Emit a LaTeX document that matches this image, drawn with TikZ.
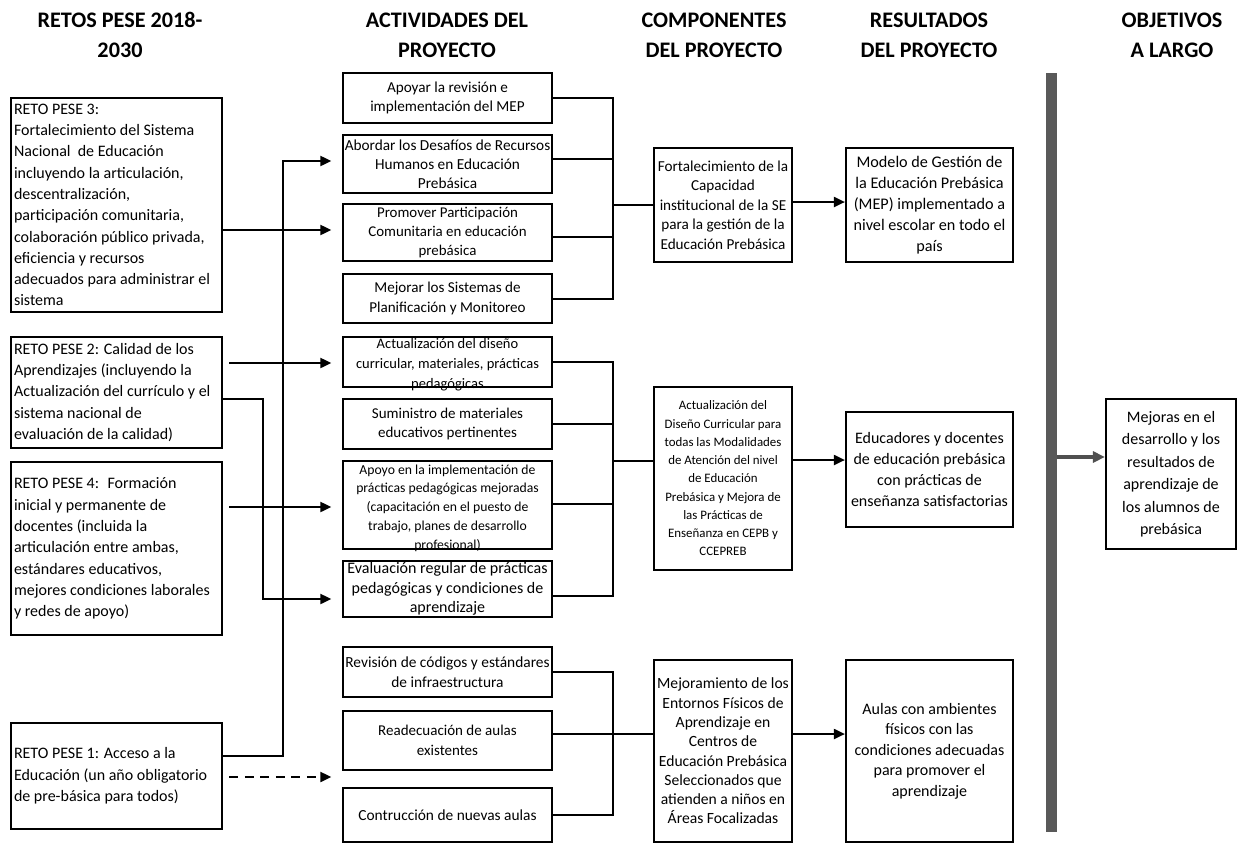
\documentclass[tikz,border=0pt]{standalone}
\usepackage{fontspec}
\setmainfont{Carlito}
\usetikzlibrary{arrows.meta}
\definecolor{barcol}{HTML}{595959}
\definecolor{arrcol}{HTML}{505050}
\tikzset{
  fs/.style 2 args={font=\fontsize{#1pt}{#2pt}\selectfont},
  ttl/.style={align=center, inner sep=0pt, font=\fontsize{22.2pt}{30pt}\selectfont\bfseries},
  retobox/.style={draw, line width=2.5pt, text width=205pt, align=flush left, inner xsep=3pt, inner ysep=1pt, minimum height=#1, fs={16}{21.3}},
  actbox/.style={draw, line width=1.3pt, minimum width=209pt, minimum height=#1, inner sep=0pt, align=center},
  txt/.style={align=center, inner sep=0pt},
  cbox/.style={draw, line width=2.2pt, minimum width=138pt, minimum height=#1, inner sep=0pt, align=center},
  rbox/.style={draw, line width=2.2pt, minimum width=167pt, minimum height=#1, inner sep=0pt, align=center},
  conn/.style={draw, line width=2pt},
  tip/.style={-{Triangle[length=11pt,width=10pt]}},
}
\begin{document}
\begin{tikzpicture}[x=1pt, y=-1pt]
\useasboundingbox (0,0) rectangle (1238,857);

% titles
\node[ttl] (t1) at (120,35) {RETOS PESE 2018-\\2030};
\node[ttl] (t2) at (447,35) {ACTIVIDADES DEL\\PROYECTO};
\node[ttl] (t3) at (714,35) {COMPONENTES\\DEL PROYECTO};
\node[ttl] (t4) at (929,35) {RESULTADOS\\DEL PROYECTO};
\node[ttl] (t5) at (1172,35) {OBJETIVOS\\A LARGO};

% retos
\node[retobox=214pt] (r3) at (116.5,205) {RETO PESE 3:\\ Fortalecimiento del Sistema\\ Nacional~ de Educación\\ incluyendo la articulación,\\ descentralización,\\ participación comunitaria,\\ colaboración público privada,\\ eficiencia y recursos\\ adecuados para administrar el\\ sistema};
\node[retobox=111pt] (r2) at (116.5,392.5) {RETO PESE 2: Calidad de los\\ Aprendizajes (incluyendo la\\ Actualización del currículo y el\\ sistema nacional de\\ evaluación de la calidad)};
\node[retobox=173pt] (r4) at (116.5,548.5) {RETO PESE 4:~ Formación\\ inicial y permanente de\\ docentes (incluida la\\ articulación entre ambas,\\ estándares educativos,\\ mejores condiciones laborales\\ y redes de apoyo)};
\node[retobox=106pt] (r1) at (116.5,776) {RETO PESE 1: Acceso a la\\ Educación (un año obligatorio\\ de pre-básica para todos)};

% activities
\node[actbox=50pt, fs={15.2}{19.5}] (a1) at (447.5,98) {Apoyar la revisión e\\ implementación del MEP};
\node[actbox=58pt, fs={15.3}{19}] (a2) at (447.5,164) {Abordar los Desafíos de Recursos\\ Humanos en Educación\\ Prebásica};
\node[actbox=57pt, fs={14.9}{19}] (a3) at (447.5,232.5) {Promover Participación\\ Comunitaria en educación\\ prebásica};
\node[actbox=49pt, fs={15.1}{19.5}] (a4) at (447.5,298.5) {Mejorar los Sistemas de\\ Planificación y Monitoreo};
\node[actbox=50pt] (a5) at (447.5,362) {};
\node[txt, fs={14.5}{20}] (a5t) at ([yshift=-3pt]a5.center) {Actualización del diseño\\ curricular, materiales, prácticas\\ pedagógicas};
\node[actbox=50pt, fs={15}{19.5}] (a6) at (447.5,424) {Suministro de materiales\\ educativos pertinentes};
\node[actbox=88pt] (a7) at (447.5,505) {};
\node[txt, fs={13.7}{18.8}] (a7t) at ([yshift=-3pt]a7.center) {Apoyo en la implementación de\\ prácticas pedagógicas mejoradas\\ (capacitación en el puesto de\\ trabajo, planes de desarrollo\\ profesional)};
\node[actbox=56pt, fs={16}{19.5}] (a8) at (447.5,589) {Evaluación regular de prácticas\\ pedagógicas y condiciones de\\ aprendizaje};
\node[actbox=50pt, fs={15.4}{19.5}] (a9) at (447.5,672) {Revisión de códigos y estándares\\ de infraestructura};
\node[actbox=59pt, fs={15}{19.5}] (a10) at (447.5,740.5) {Readecuación de aulas\\ existentes};
\node[actbox=54pt, fs={15.4}{19.5}] (a11) at (447.5,815) {Contrucción de nuevas aulas};

% components
\node[cbox=114pt, fs={15.2}{19.6}] (c1) at (723,205) {Fortalecimiento de la\\ Capacidad\\ institucional de la SE\\ para la gestión de la\\ Educación Prebásica};
\node[cbox=183pt, fs={12.9}{18.25}] (c2) at (723,478.5) {Actualización del\\ Diseño Curricular para\\ todas las Modalidades\\ de Atención del nivel\\ de Educación\\ Prebásica y Mejora de\\ las Prácticas de\\ Enseñanza en CEPB y\\ CCEPREB};
\node[cbox=182pt, fs={15.6}{19.3}] (c3) at (723,751) {Mejoramiento de los\\ Entornos Físicos de\\ Aprendizaje en\\ Centros de\\ Educación Prebásica\\ Seleccionados que\\ atienden a niños en\\ Áreas Focalizadas};

% results
\node[rbox=114pt, fs={16.2}{21}] (rr1) at (929.5,205) {Modelo de Gestión de\\ la Educación Prebásica\\ (MEP) implementado a\\ nivel escolar en todo el\\ país};
\node[rbox=115pt, fs={16}{20.7}] (rr2) at (929.5,469.5) {Educadores y docentes\\ de educación prebásica\\ con prácticas de\\ enseñanza satisfactorias};
\node[rbox=182pt, fs={16}{20.5}] (rr3) at (929.5,751) {Aulas con ambientes\\ físicos con las\\ condiciones adecuadas\\ para promover el\\ aprendizaje};

% bar and objective
\node[fill=barcol, inner sep=0pt, minimum width=11pt, minimum height=759pt] (bar) at (1051.5,452.5) {};
\node[draw, line width=2.2pt, minimum width=130pt, minimum height=150pt, inner sep=0pt, align=center, fs={16}{22.5}] (obj) at (1171,474) {Mejoras en el\\ desarrollo y los\\ resultados de\\ aprendizaje de\\ los alumnos de\\ prebásica};

% left connectors
\draw[conn, tip, shorten >=11pt] (r3.east |- 0,230) -- (a3.west |- 0,230);
\draw[conn, tip, shorten >=11pt] (r1.east |- 0,756) -| (283,161) -- (a2.west |- 0,161);
\draw[conn, tip, shorten <=6pt, shorten >=11pt] (r2.east |- 0,363) -- (a5.west |- 0,363);
\draw[conn, tip, shorten >=11pt] (r2.east |- 0,399) -| (263,599) -- (a8.west |- 0,599);
\draw[conn, tip, shorten <=6pt, shorten >=11pt] (r4.east |- 0,507) -- (a7.west |- 0,507);
\draw[conn, tip, dash pattern=on 9pt off 6.5pt, shorten <=6pt, shorten >=11pt] (r1.east |- 0,777) -- (a11.west |- 0,777);

% brackets
\coordinate (b1) at (613,205);
\coordinate (b2) at (613,461);
\coordinate (b3) at (613,734);
\draw[conn] (a1.east) -| (b1) |- (a4.east);
\draw[conn] (a2.east |- 0,159) -- (b1 |- 0,159);
\draw[conn] (a3.east |- 0,237) -- (b1 |- 0,237);
\draw[conn] (b1) -- (c1.west |- b1);
\draw[conn] (a5.east) -| (b2) |- (a8.east |- 0,596);
\draw[conn] (a6.east) -- (b2 |- a6.east);
\draw[conn] (a7.east |- 0,504) -- (b2 |- 0,504);
\draw[conn] (b2) -- (c2.west |- b2);
\draw[conn] (a9.east) -| (b3) |- (a11.east);
\draw[conn] (a10.east |- 0,734) -- (c3.west |- 0,734);

% component -> result
\draw[conn, tip] (c1.east |- 0,202) -- (rr1.west |- 0,202);
\draw[conn, tip] (c2.east |- 0,460) -- (rr2.west |- 0,460);
\draw[conn, tip] (c3.east |- 0,734) -- (rr3.west |- 0,734);

% bar -> objective
\draw[draw=arrcol, line width=3.2pt, -{Triangle[length=12pt,width=11pt]}] (bar.east |- 0,457) -- (obj.west |- 0,457);
\end{tikzpicture}
\end{document}
